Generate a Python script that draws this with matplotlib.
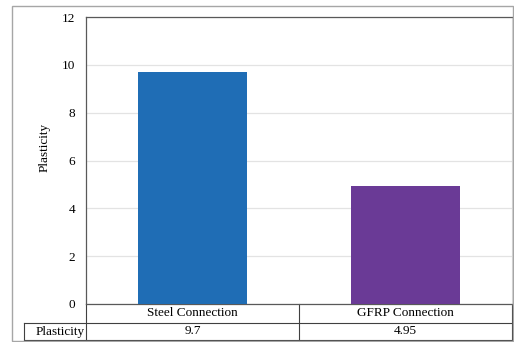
import matplotlib
matplotlib.use("Agg")
import matplotlib.pyplot as plt
from matplotlib.patches import Rectangle

categories = ["Steel Connection", "GFRP Connection"]
plasticity = [9.7, 4.95]
value_labels = ["9.7", "4.95"]
row_label = "Plasticity"
bar_colors = ["#1f6db5", "#6a3a96"]
yticks = [0, 2, 4, 6, 8, 10, 12]

plt.rcParams["font.family"] = ["Liberation Serif", "DejaVu Serif"]

fig = plt.figure(figsize=(5.14, 3.42), dpi=100)
W, H = 514.0, 342.0

# outer chart frame
fig.patches.append(Rectangle((12 / W, 1 - 341 / H), (513 - 12) / W, (341 - 6) / H,
                             transform=fig.transFigure, fill=False,
                             edgecolor="#a6a6a6", linewidth=1.0))

ax = fig.add_axes([86 / W, 1 - 304 / H, (512 - 86) / W, (304 - 17) / H])
x = [0, 1]
ax.bar(x, plasticity, width=0.51, color=bar_colors, zorder=3)
ax.set_xlim(-0.5, 1.5)
ax.set_ylim(0, 12)
ax.set_yticks(yticks)
ax.set_xticks([])
ax.tick_params(axis="y", length=0, pad=8, labelsize=9.5)
ax.yaxis.grid(True, color="#e3e3e3", linewidth=0.9, zorder=0)
ax.set_axisbelow(True)
for side in ["left", "top", "bottom"]:
    ax.spines[side].set_color("#595959")
    ax.spines[side].set_linewidth(0.9)
ax.spines["right"].set_color("#d9d9d9")

fig.text(45 / W, 1 - 147 / H, "Plasticity", rotation=90, ha="center", va="center",
         fontsize=9.5)

# data table under the axis
h = ax.get_position().height * H
r1 = -19 / h
r2 = -36 / h
rl = -62 / (ax.get_position().width * W)
lc = "#404040"
lines = [
    ([0, 0], [0, r2]),
    ([0.5, 0.5], [0, r2]),
    ([1, 1], [0, r2]),
    ([rl, 1], [r1, r1]),
    ([rl, 1], [r2, r2]),
    ([rl, rl], [r1, r2]),
]
for xs, ys in lines:
    ax.plot(xs, ys, color=lc, linewidth=0.8, transform=ax.transAxes, clip_on=False)

for i, cat in enumerate(categories):
    cx = 0.25 + 0.5 * i
    ax.text(cx, r1 / 2, cat, transform=ax.transAxes, ha="center", va="center",
            fontsize=9.5)
    ax.text(cx, (r1 + r2) / 2, value_labels[i], transform=ax.transAxes,
            ha="center", va="center", fontsize=9.5)
ax.text(-0.004, (r1 + r2) / 2, row_label, transform=ax.transAxes, ha="right",
        va="center", fontsize=9.5)

fig.savefig("out.png", dpi=100)
